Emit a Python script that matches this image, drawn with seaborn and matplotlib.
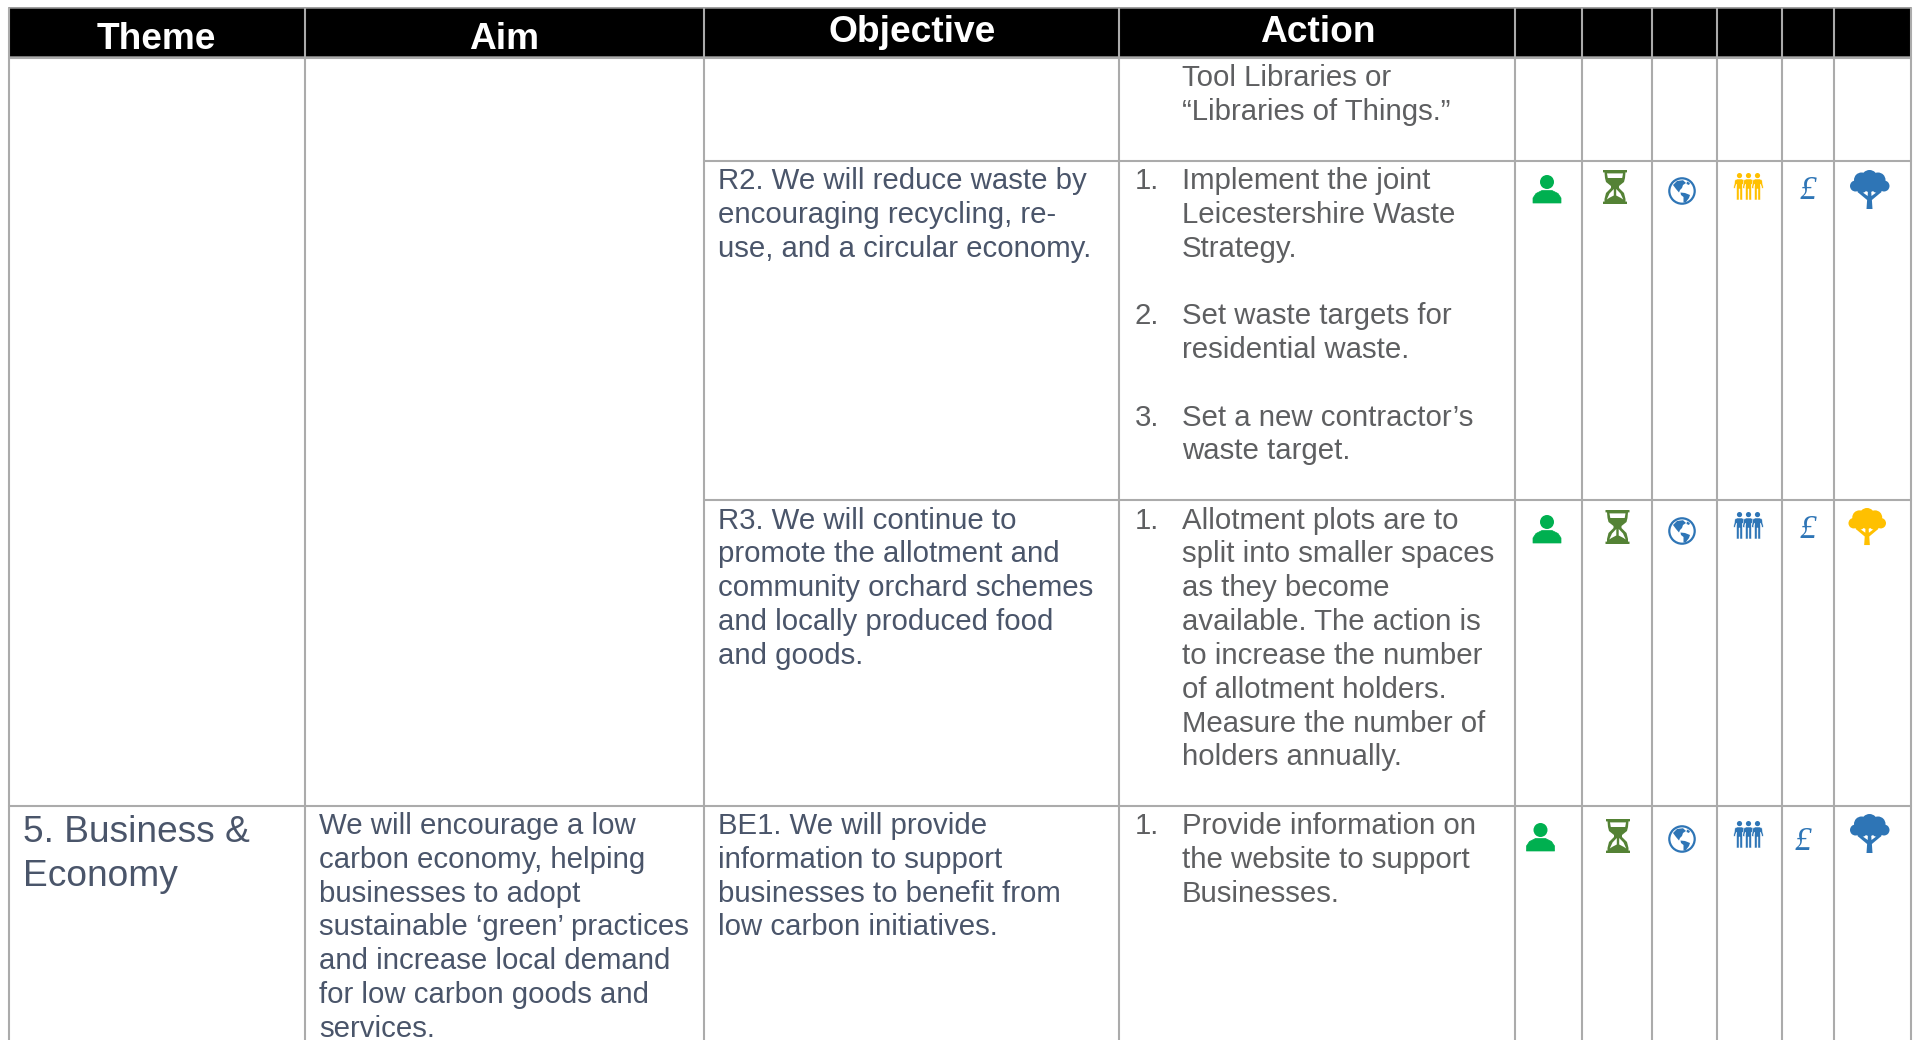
import numpy as np
import matplotlib
matplotlib.use("Agg")
import matplotlib.pyplot as plt
import seaborn as sns
from matplotlib.patches import Circle, Polygon, Rectangle
from matplotlib.transforms import Affine2D

# ---------- content ----------
headers = ["Theme", "Aim", "Objective", "Action"]
theme_lines = ["5. Business &", "Economy"]
aim_lines = ["We will encourage a low", "carbon economy, helping", "businesses to adopt",
             "sustainable ‘green’ practices", "and increase local demand",
             "for low carbon goods and", "services."]
carry_over = ["Tool Libraries or", "“Libraries of Things.”"]
r2_obj = ["R2. We will reduce waste by", "encouraging recycling, re-", "use, and a circular economy."]
r2_act = [("1.", ["Implement the joint", "Leicestershire Waste", "Strategy."]),
          ("2.", ["Set waste targets for", "residential waste."]),
          ("3.", ["Set a new contractor’s", "waste target."])]
r3_obj = ["R3. We will continue to", "promote the allotment and", "community orchard schemes",
          "and locally produced food", "and goods."]
r3_act = [("1.", ["Allotment plots are to", "split into smaller spaces", "as they become",
                  "available. The action is", "to increase the number", "of allotment holders.",
                  "Measure the number of", "holders annually."])]
be_obj = ["BE1. We will provide", "information to support", "businesses to benefit from",
          "low carbon initiatives."]
be_act = [("1.", ["Provide information on", "the website to support", "Businesses."])]

BLUE, AMBER, GREEN, OLIVE = "#2E75B6", "#FFC000", "#00B050", "#548235"
people_colours = [AMBER, BLUE, BLUE]
tree_colours = [BLUE, AMBER, BLUE]

# ---------- layout (pixels) ----------
W, H = 1915, 1040
col_x = [9, 305, 704, 1119.5, 1515.5, 1582.5, 1652.5, 1717.5, 1782.5, 1834.5, 1911]
head_top, head_bot = 8, 57
row_y = [161, 500, 806]
LINE = 33.8
GRID = "#ABABAB"
TXT = "#4A556A"
ACT = "#5E5F61"
FS = 21.15
FS_B = 26.7

sns.set_theme(style="white")
plt.rcParams["font.family"] = ["Liberation Sans", "DejaVu Sans"]

fig = plt.figure(figsize=(W / 100, H / 100), dpi=100, facecolor="white")
ax = fig.add_axes([0, 0, 1, 1])
ax.set_xlim(0, W)
ax.set_ylim(H, 0)
ax.axis("off")
sns.despine(ax=ax, left=True, bottom=True)

# ---------- grid ----------
ax.add_patch(Rectangle((col_x[0], head_top), col_x[-1] - col_x[0], head_bot - head_top,
                       fc="black", ec="#8C8C8C", lw=1.2, zorder=1))
for x in col_x:
    ax.plot([x, x], [head_top, H], color=GRID, lw=1.5, zorder=2, solid_capstyle="butt")
ax.plot([col_x[0], col_x[-1]], [head_bot + .5] * 2, color=GRID, lw=1.5, zorder=2)
for y in row_y[:2]:
    ax.plot([col_x[2], col_x[-1]], [y, y], color=GRID, lw=1.5, zorder=2)
ax.plot([col_x[0], col_x[-1]], [row_y[2]] * 2, color=GRID, lw=1.5, zorder=2)


# ---------- text ----------
def lines(x, y0, items, color=TXT, size=FS, step=LINE):
    for i, s in enumerate(items):
        ax.text(x, y0 + i * step, s, color=color, fontsize=size, ha="left", va="baseline", zorder=5)


for name, cx, by in zip(headers, [156.5, 504, 912, 1318], [49, 49, 42.5, 42.5]):
    ax.text(cx, by, name, color="white", fontsize=FS_B, fontweight="bold", ha="center", va="baseline", zorder=5)


def action(y0, items, gap=1):
    y = y0
    for num, ls in items:
        ax.text(1135, y, num, color=ACT, fontsize=FS, ha="left", va="baseline", zorder=5)
        lines(1182, y, ls, color=ACT)
        y += (len(ls) + gap) * LINE


lines(1182, 86, carry_over, color=ACT)
lines(718, 189, r2_obj)
action(189, r2_act, gap=1)
lines(718, 528.7, r3_obj)
action(528.7, r3_act)
lines(319.5, 834, aim_lines)
lines(718, 834, be_obj)
action(834, be_act)
lines(23, 842.5, theme_lines, size=FS_B, step=43)


# ---------- icons ----------
def place(artist, tx, ty, s=1.0):
    artist.set_transform(Affine2D().scale(s).translate(tx, ty) + ax.transData)
    artist.set_zorder(6)
    artist.set_clip_on(False)
    ax.add_artist(artist)


def person(x, y, c=GREEN):
    place(Circle((0, 7), 7, fc=c, ec="none"), x, y)
    place(Polygon([(-14, 28), (-14, 23), (-11, 18.5), (-5, 15.5), (5, 15.5), (11, 18.5), (14, 23), (14, 28)],
                  closed=True, fc=c, ec=c, lw=.5, joinstyle="round"), x, y)


def hourglass(x, y, c=OLIVE):
    place(Polygon([(-12, 0), (12, 0), (12, 2.4), (10.5, 2.4), (10, 8), (9, 12), (4, 16), (4, 18), (9, 23),
                   (10.5, 29), (10.5, 31.6), (12, 31.6), (12, 34), (-12, 34), (-12, 31.6), (-10.5, 31.6), (-10.5, 29),
                   (-9, 23), (-4, 18), (-4, 16), (-9, 12), (-10, 8), (-10.5, 2.4), (-12, 2.4)],
                  closed=True, fc=c, ec="none"), x, y)
    place(Polygon([(-8, 3.4), (8, 3.4), (7.2, 8), (-7.2, 8)], closed=True, fc="white", ec="none"), x, y)
    for sgn in (-1, 1):
        place(Polygon([(sgn * 1.2, 19), (sgn * 5.5, 23.5), (sgn * 8.2, 29.5), (sgn * 6, 28),
                       (sgn * 1.2, 25.5)], closed=True, fc="white", ec="none"), x, y)


def globe(x, y, c=BLUE):
    place(Circle((0, 0), 12.7, fc="white", ec=c, lw=1.6), x, y)
    place(Polygon([(-9, -6), (-5, -10), (1, -10.8), (4, -8), (1, -6), (0, -3), (-2, -1), (-3, 1.5), (-6, -2)],
                  closed=True, fc=c, ec="none"), x, y)
    place(Polygon([(-1.5, 1.5), (3, 2), (8, 4), (7, 7), (4, 11), (1.5, 11.5), (1.5, 6), (-1, 4)],
                  closed=True, fc=c, ec="none"), x, y)
    place(Polygon([(5, -9.5), (8, -8), (7, -6), (4.5, -7)], closed=True, fc=c, ec="none"), x, y)


def people(x, y, c=BLUE):
    for dx in (6, 15, 24):
        place(Circle((dx, 2.6), 2.6, fc=c, ec="none"), x, y)
        place(Polygon([(dx - 6, 15), (dx - 4.5, 7), (dx - 2.5, 6), (dx + 2.5, 6), (dx + 4.5, 7), (dx + 6, 15),
                       (dx + 4.5, 15.5), (dx + 3, 11), (dx + 3, 27), (dx + .4, 27), (dx + .4, 16), (dx - .4, 16),
                       (dx - .4, 27), (dx - 3, 27), (dx - 3, 11), (dx - 4.5, 15.5)],
                      closed=True, fc=c, ec="white", lw=.4), x, y)


def pound(x, y, c=BLUE):
    ax.text(x, y, "£", color=c, fontsize=24, family=["Liberation Serif", "DejaVu Serif"],
            fontstyle="italic", ha="center", va="baseline", zorder=6)


def tree(x, y, c=BLUE, s=1.0):
    for cx, cy, r in [(0, 8, 8), (-8, 10, 7.5), (8.5, 10, 7.5), (-14, 16, 5.5), (14.5, 16, 5.5),
                      (-8, 17, 6), (8, 17, 6), (0, 14, 8)]:
        place(Circle((cx, cy), r, fc=c, ec="none"), x, y, s)
    place(Polygon([(-3, 39), (3, 39), (2.4, 30), (12, 22), (9.5, 20.5), (2, 26), (1.5, 18), (-1.5, 18), (-1.8, 26),
                   (-9.5, 20.5), (-12, 22), (-2.4, 30)], closed=True, fc=c, ec="none"), x, y, s)


person_xy = [(1547, 175), (1547, 515), (1540.5, 823)]
glass_xy = [(1615, 170), (1617.5, 510), (1618, 819)]
globe_xy = [(1682, 191), (1682, 531), (1682, 839)]
people_xy = [(1733.5, 173), (1733.5, 512), (1733.5, 821)]
pound_xy = [(1807.5, 199), (1807.5, 538), (1803, 850)]
tree_xy = [(1869.5, 170), (1867, 508), (1869.5, 814)]
tree_sizes = [1.0, .95, 1.0]

for i in range(3):
    person(*person_xy[i])
    hourglass(*glass_xy[i])
    globe(*globe_xy[i])
    people(*people_xy[i], c=people_colours[i])
    pound(*pound_xy[i])
    tree(*tree_xy[i], c=tree_colours[i], s=tree_sizes[i])

fig.savefig("out.png", dpi=100, facecolor="white")
